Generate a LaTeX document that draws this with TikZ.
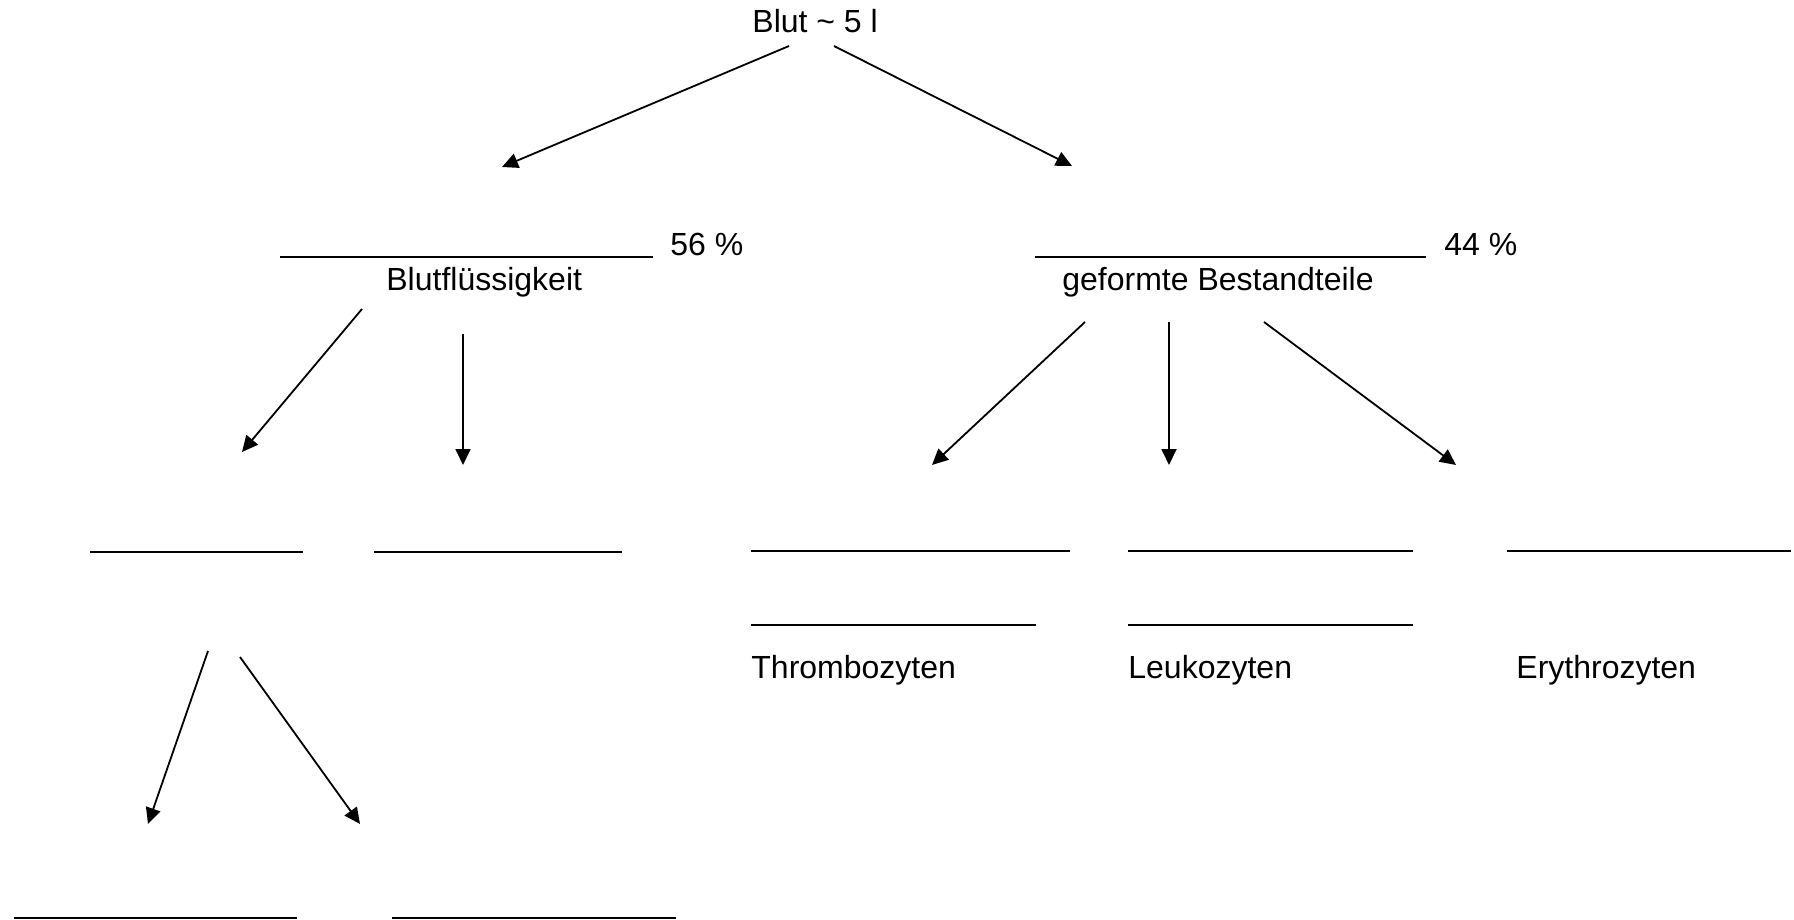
\documentclass[tikz,border=0pt]{standalone}
\usepackage{fontspec}
\setmainfont{Liberation Sans}
\usetikzlibrary{arrows.meta}
\tikzset{
  txt/.style={anchor=base west, inner sep=0pt, font=\fontsize{16}{19}\selectfont},
  luecke/.style={anchor=west, inner sep=0pt},
  pfeil/.style={line width=0.9pt, arrows={-Triangle[length=8pt,width=7.5pt]}}
}
\newcommand{\blank}[1]{\rule{#1}{0.9pt}}

\begin{document}
\begin{tikzpicture}[x=0.5pt, y=-0.5pt]
        \useasboundingbox (0,0) rectangle (1794,920);
        % Top: whole blood
        \node [txt] (blut) at (752,33) {Blut \textasciitilde{} 5 l};
        % Plasma side
        \node [luecke] (plasmaL) at (280,257) {\blank{186.5pt}};
        \node [txt] (p56) at (670,255) {56 \%};
        \node [txt] (plasma) at (386,290) {Blutflüssigkeit};
        % Cell side
        \node [luecke] (zellenL) at (1035,257) {\blank{195.5pt}};
        \node [txt] (p44) at (1444,255) {44 \%};
        \node [txt] (zellen) at (1062,290) {geformte Bestandteile};
        % Blanks below plasma
        \node [luecke] (wasser) at (90,552) {\blank{106.5pt}};
        \node [luecke] (salze) at (374,552) {\blank{124pt}};
        \node [luecke] (sub1) at (14,918) {\blank{141.5pt}};
        \node [luecke] (sub2) at (392,918) {\blank{142pt}};
        % Blanks and names of the cells
        \node [luecke] (thrA) at (751,551) {\blank{159.5pt}};
        \node [luecke] (thrB) at (751,625) {\blank{142.5pt}};
        \node [txt] (thrombo) at (751,678) {Thrombozyten};
        \node [luecke] (leuA) at (1128,551) {\blank{142.5pt}};
        \node [luecke] (leuB) at (1128,625) {\blank{142.5pt}};
        \node [txt] (leuko) at (1128,678) {Leukozyten};
        \node [luecke] (eryA) at (1507,551) {\blank{142pt}};
        \node [txt] (erythro) at (1516,678) {Erythrozyten};
        % Arrow ends
        \coordinate (blut-l) at (789,46);
        \coordinate (blut-r) at (834,46);
        \coordinate (plasma-top) at (502,167);
        \coordinate (zellen-top) at (1072,166);
        \coordinate (plasma-l) at (362,309);
        \coordinate (plasma-m) at (463,334);
        \coordinate (wasser-top) at (242,452);
        \coordinate (salze-top) at (463,465);
        \coordinate (zellen-l) at (1085,322);
        \coordinate (zellen-m) at (1169,322);
        \coordinate (zellen-r) at (1264,322);
        \coordinate (thr-top) at (932,465);
        \coordinate (leu-top) at (1169,465);
        \coordinate (ery-top) at (1456,465);
        \coordinate (wasser-l) at (208,651);
        \coordinate (wasser-r) at (240,657);
        \coordinate (sub1-top) at (148,824);
        \coordinate (sub2-top) at (360,824);
        % Arrows
        \draw [pfeil] (blut-l) -- (plasma-top);
        \draw [pfeil] (blut-r) -- (zellen-top);
        \draw [pfeil] (plasma-l) -- (wasser-top);
        \draw [pfeil] (plasma-m) -- (salze-top);
        \draw [pfeil] (zellen-l) -- (thr-top);
        \draw [pfeil] (zellen-m) -- (leu-top);
        \draw [pfeil] (zellen-r) -- (ery-top);
        \draw [pfeil] (wasser-l) -- (sub1-top);
        \draw [pfeil] (wasser-r) -- (sub2-top);
\end{tikzpicture}
\end{document}
